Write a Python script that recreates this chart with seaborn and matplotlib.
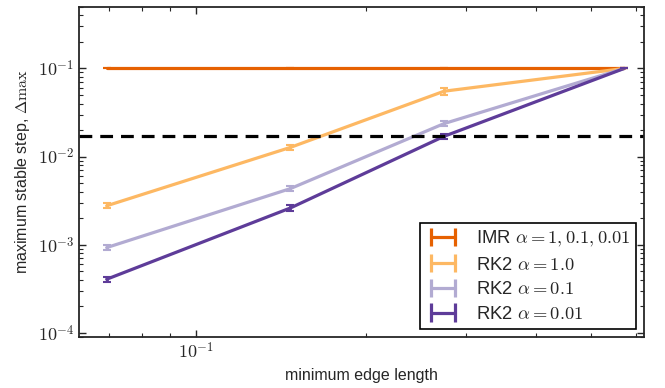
import matplotlib
matplotlib.use('Agg')
import matplotlib.pyplot as plt
import matplotlib.ticker as mticker
import seaborn as sns
import pandas as pd
import numpy as np

# data
edge = [0.0694, 0.1466, 0.2745, 0.572]
imr = [0.1, 0.1, 0.1, 0.1]
rk2_a1 = [2.77e-3, 0.0127, 0.0552, 0.1]
rk2_a01 = [9.3e-4, 4.33e-3, 0.0237, 0.1]
rk2_a001 = [4.07e-4, 2.61e-3, 0.017, 0.1]
imr_err = [0.0, 0.0, 0.0, 0.0]
rk2_a1_err = [1.8e-4, 7e-4, 5e-3, 0.0]
rk2_a01_err = [6e-5, 3e-4, 1.5e-3, 0.0]
rk2_a001_err = [3e-5, 2e-4, 1.2e-3, 0.0]
dash_level = 0.0172
labels = [r'IMR $\alpha = 1, 0.1, 0.01$', r'RK2 $\alpha = 1.0$',
          r'RK2 $\alpha = 0.1$', r'RK2 $\alpha = 0.01$']
colors = ['#e66101', '#fdb863', '#b2abd2', '#5e3c99']

series = [imr, rk2_a1, rk2_a01, rk2_a001]
errs = [imr_err, rk2_a1_err, rk2_a01_err, rk2_a001_err]

rows = []
for lab, ys in zip(labels, series):
    for x, y in zip(edge, ys):
        rows.append({'edge': x, 'dt': y, 'method': lab})
df = pd.DataFrame(rows)

sns.set_style('ticks')
plt.rcParams['font.family'] = ['Liberation Sans', 'DejaVu Sans']
plt.rcParams['mathtext.fontset'] = 'cm'
plt.rcParams['xtick.direction'] = 'in'
plt.rcParams['ytick.direction'] = 'in'
plt.rcParams['xtick.top'] = True
plt.rcParams['ytick.right'] = True

fig = plt.figure(figsize=(6.65, 3.88), dpi=100)
ax = fig.add_axes([0.1188, 0.1314, 0.8496, 0.851])

sns.lineplot(data=df, x='edge', y='dt', hue='method', palette=colors,
             hue_order=labels, linewidth=2.3, legend=False, ax=ax)

handles = []
for lab, ys, e, c in zip(labels, series, errs, colors):
    ax.errorbar(edge, ys, yerr=e, fmt='none', ecolor=c, elinewidth=2,
                capsize=3, capthick=1.5)
    h = ax.errorbar([], [], yerr=[], fmt='-', color=c, lw=2.3,
                    elinewidth=2.3, capsize=5, capthick=2, label=lab)
    handles.append(h)

ax.axhline(dash_level, color='black', lw=2.3, dashes=(4, 2.5))

ax.set_xscale('log')
ax.set_yscale('log')
ax.set_xlim(0.062, 0.62)
ax.set_ylim(9.0e-5, 0.5)


def pow_fmt(v, pos):
    return r'$10^{%d}$' % int(np.round(np.log10(v)))


ax.xaxis.set_major_formatter(mticker.FuncFormatter(pow_fmt))
ax.yaxis.set_major_formatter(mticker.FuncFormatter(pow_fmt))
ax.xaxis.set_minor_formatter(mticker.NullFormatter())
ax.yaxis.set_minor_formatter(mticker.NullFormatter())

ax.tick_params(which='major', length=5, width=1, labelsize=13)
ax.tick_params(which='minor', length=3, width=0.8)
for s in ax.spines.values():
    s.set_linewidth(1.3)

ax.set_xlabel('minimum edge length', fontsize=11.5)
ax.set_ylabel(r'maximum stable step, $\Delta\max$', fontsize=11.5)

leg = ax.legend(handles=handles, labels=labels, loc='lower right',
                numpoints=2, fontsize=13.3, frameon=True, fancybox=False,
                framealpha=1, edgecolor='black', borderaxespad=0.45,
                handlelength=1.9, labelspacing=0.42, borderpad=0.3,
                handletextpad=0.8)
leg.get_frame().set_linewidth(1.2)

fig.savefig('out.png', dpi=100)
